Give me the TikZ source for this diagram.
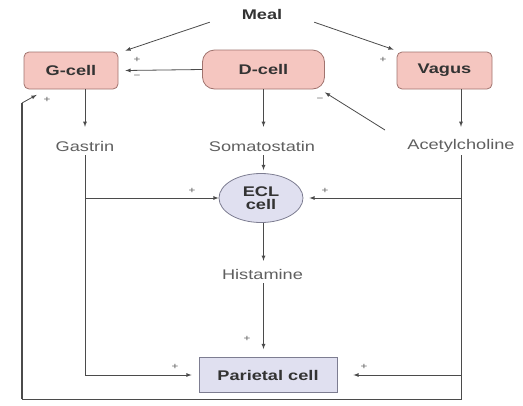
\documentclass[tikz,border=0pt]{standalone}
\usepackage{fontspec}
\setmainfont[FakeStretch=1.3]{Liberation Sans}
\usepackage{tikz}
\usepackage{xcolor}
\usetikzlibrary{positioning,shapes,arrows}

\definecolor{cellpink}{RGB}{245,198,192}
\definecolor{cellrim}{RGB}{160,115,110}
\definecolor{ecllav}{RGB}{224,224,240}
\definecolor{lavrim}{RGB}{125,125,145}
\definecolor{wirecol}{RGB}{75,75,75}
\definecolor{txtgray}{RGB}{95,95,95}

\begin{document}
\begin{tikzpicture}[x=10pt,y=10pt,>=latex]
\tikzstyle{every node}+=[inner sep=0pt]
\tikzstyle{boldtext}=[font=\fontsize{14}{13}\selectfont\bfseries, text=black!80]
\tikzstyle{cellbox}=[boldtext, draw=cellrim, fill=cellpink, line width=0.8pt, rounded corners=5pt, minimum width=94pt, minimum height=37pt]
\tikzstyle{lavbox}=[boldtext, draw=lavrim, fill=ecllav, line width=0.8pt]
\tikzstyle{hormone}=[font=\fontsize{14}{16}\selectfont, text=txtgray, minimum height=18pt]
\tikzstyle{sign}=[font=\fontsize{9}{10}\selectfont, text=txtgray]
\tikzstyle{wire}=[draw=wirecol, line width=0.8pt]
\useasboundingbox (0,0) rectangle (52.3,-40.5);
% top row
\node[boldtext, minimum width=104pt, minimum height=16pt] (meal) at (26.2,-1.4) {Meal};
\node[cellbox] (gcell) at (7.1,-7.05) {G-cell};
\node[cellbox, minimum width=122pt, minimum height=39pt, rounded corners=12pt] (dcell) at (26.35,-6.95) {D-cell};
\node[cellbox, minimum width=95pt] (vagus) at (44.45,-7.05) {Vagus};
% messengers
\node[hormone] (gastrin) at (8.5,-14.6) {Gastrin};
\node[hormone] (somato) at (26.2,-14.6) {Somatostatin};
\node[hormone] (ach) at (46.1,-14.6) {Acetylcholine};
\node[lavbox, ellipse, align=center, minimum width=84pt, minimum height=49pt] (ecl) at (26.1,-19.8) {ECL\\cell};
\node[hormone] (hist) at (26.25,-27.4) {Histamine};
\node[lavbox, minimum width=138pt, minimum height=35pt] (parietal) at (26.8,-37.5) {Parietal cell};
% free ends
\coordinate (achtail) at (38.5,-13.0);
\coordinate (loopbr) at (46.1,-39.9);
\coordinate (loopbl) at (2.2,-39.9);
\coordinate (looptl) at (2.2,-10.3);

\draw[wire,->] (meal.south west) -- ([xshift=7pt,yshift=1pt]gcell.north east);
\draw[wire,->] (meal.south east) -- ([xshift=-3pt,yshift=2pt]vagus.north west);
\draw[wire,->] (dcell.west) -- ([xshift=7pt]gcell.east);
\draw[wire,->] (achtail) -- ([yshift=-3pt]dcell.south east);
\draw[wire,->,shorten >=10pt] (gcell.south -| gastrin) -- (gastrin.north);
\draw[wire,->,shorten >=10pt] (dcell.south) -- (dcell.south |- somato.north);
\draw[wire,->,shorten >=10pt] (vagus.south -| ach) -- (ach.north);
\draw[wire,->,shorten >=3pt] (somato.south -| dcell) -- (dcell |- ecl.north);
\draw[wire,->] (gastrin |- ecl.west) -- (ecl.west);
\draw[wire,->,shorten >=6pt] (ach |- ecl.east) -- (ecl.east);
\draw[wire,->,shorten >=4pt] (ecl.south -| dcell) -- (dcell |- hist.north);
\draw[wire,->,shorten >=8pt] (hist.south -| dcell) -- (dcell |- parietal.north);
\draw[wire,->,shorten >=7pt] (gastrin.south) |- (parietal.west);
\draw[wire,->,shorten >=16pt] (ach |- parietal.east) -- (parietal.east);
\draw[wire] (ach.south) -- (loopbr) -- (loopbl);
\draw[wire, line width=2pt] (loopbl) -- (looptl);
\draw[wire,->] (looptl) -- ([xshift=13pt,yshift=-5.5pt]gcell.south west);
% signs
\node[sign] (pa) at (13.7,-6.0) {+};
\node[sign] (ma) at (13.7,-7.7) {−};
\node[sign] (pb) at (38.3,-6.0) {+};
\node[sign] (mb) at (32.0,-10.0) {−};
\node[sign] (pc) at (4.7,-10.0) {+};
\node[sign] (pd) at (19.2,-19.1) {+};
\node[sign] (pe) at (32.5,-19.1) {+};
\node[sign] (pf) at (24.7,-33.9) {+};
\node[sign] (pg) at (17.5,-36.7) {+};
\node[sign] (ph) at (36.4,-36.7) {+};
\end{tikzpicture}
\end{document}
